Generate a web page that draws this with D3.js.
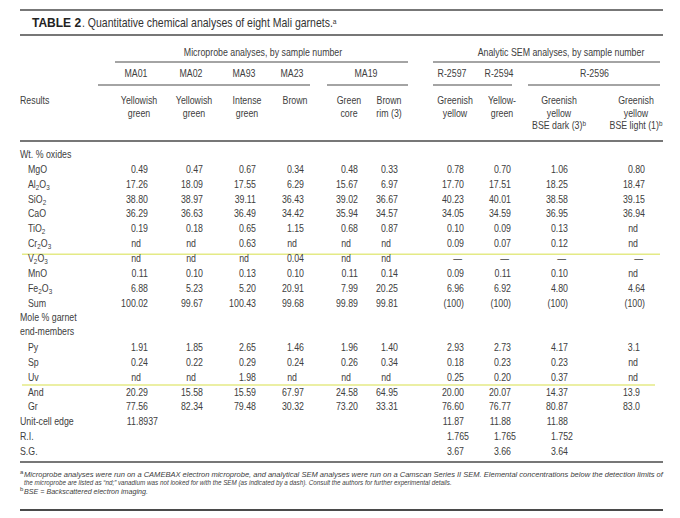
<!DOCTYPE html>
<html>
<head>
<meta charset="utf-8">
<script src="https://cdn.jsdelivr.net/npm/d3@7"></script>
<style>
  body { margin: 0; background: #fff; }
  svg { display: block; }
  text { font-family: 'Liberation Sans', Arial, sans-serif; fill: #404040; }
</style>
</head>
<body>
<div id="chart"></div>
<script>
// Table content
const columns = ["MA01", "MA02", "MA93", "MA23", "MA19 core", "MA19 rim", "R-2597", "R-2594", "R-2596 dark", "R-2596 light"];
const samples = ["MA01", "MA02", "MA93", "MA23", "MA19", "R-2597", "R-2594", "R-2596"];
const sampleColumns = [[0], [1], [2], [3], [4, 5], [6], [7], [8, 9]];
const descriptions = [
  ["Yellowish", "green"], ["Yellowish", "green"], ["Intense", "green"], ["Brown"],
  ["Green", "core"], ["Brown", "rim (3)"], ["Greenish", "yellow"], ["Yellow-", "green"],
  ["Greenish", "yellow", "BSE dark (3)^b"], ["Greenish", "yellow", "BSE light (1)^b"]
];
const groups = ["Microprobe analyses, by sample number", "Analytic SEM analyses, by sample number"];

const oxideLabels = ["MgO", "Al_2O_3", "SiO_2", "CaO", "TiO_2", "Cr_2O_3", "V_2O_3", "MnO", "Fe_2O_3", "Sum"];
const oxideValues = [
  ["0.49", "0.47", "0.67", "0.34", "0.48", "0.33", "0.78", "0.70", "1.06", "0.80"],
  ["17.26", "18.09", "17.55", "6.29", "15.67", "6.97", "17.70", "17.51", "18.25", "18.47"],
  ["38.80", "38.97", "39.11", "36.43", "39.02", "36.67", "40.23", "40.01", "38.58", "39.15"],
  ["36.29", "36.63", "36.49", "34.42", "35.94", "34.57", "34.05", "34.59", "36.95", "36.94"],
  ["0.19", "0.18", "0.65", "1.15", "0.68", "0.87", "0.10", "0.09", "0.13", "nd"],
  ["nd", "nd", "0.63", "nd", "nd", "nd", "0.09", "0.07", "0.12", "nd"],
  ["nd", "nd", "nd", "0.04", "nd", "nd", "—", "—", "—", "—"],
  ["0.11", "0.10", "0.13", "0.10", "0.11", "0.14", "0.09", "0.11", "0.10", "nd"],
  ["6.88", "5.23", "5.20", "20.91", "7.99", "20.25", "6.96", "6.92", "4.80", "4.64"],
  ["100.02", "99.67", "100.43", "99.68", "99.89", "99.81", "(100)", "(100)", "(100)", "(100)"]
];
const memberLabels = ["Py", "Sp", "Uv", "And", "Gr"];
const memberValues = [
  ["1.91", "1.85", "2.65", "1.46", "1.96", "1.40", "2.93", "2.73", "4.17", "3.1"],
  ["0.24", "0.22", "0.29", "0.24", "0.26", "0.34", "0.18", "0.23", "0.23", "nd"],
  ["nd", "nd", "1.98", "nd", "nd", "nd", "0.25", "0.20", "0.37", "nd"],
  ["20.29", "15.58", "15.59", "67.97", "24.58", "64.95", "20.00", "20.07", "14.37", "13.9"],
  ["77.56", "82.34", "79.48", "30.32", "73.20", "33.31", "76.60", "76.77", "80.87", "83.0"]
];
const physLabels = ["Unit-cell edge", "R.I.", "S.G."];
const physValues = [
  ["11.8937", "", "", "", "", "", "11.87", "11.88", "11.88", ""],
  ["", "", "", "", "", "", "1.765", "1.765", "1.752", ""],
  ["", "", "", "", "", "", "3.67", "3.66", "3.64", ""]
];
const footnotes = [
  ["a", "Microprobe analyses were run on a CAMEBAX electron microprobe, and analytical SEM analyses were run on a Camscan Series II SEM.  Elemental concentrations below the detection limits of"],
  ["", "the microprobe are listed as \u201cnd;\u201d vanadium was not looked for with the SEM (as indicated by a dash).  Consult the authors for further experimental details."],
  ["b", "BSE = Backscattered electron imaging."]
];

// Layout
const width = 680, height = 518;
const left = 20, right = 663;
const colRight = [148, 203, 256, 304, 358, 398, 464, 511, 568, 645];
const footWidths = [640, 428, 124];
const digitW = 5;
const squeeze = 0.8;   // emulate the condensed face of the print
const ink = "#4a4a4a";
const yellow = "#e4ea86";

const x = d3.scaleOrdinal().domain(columns).range(colRight);
const rowY = d3.scaleLinear().domain([0, 20]).range([154, 451]);

const svg = d3.select("#chart").append("svg")
  .attr("width", width)
  .attr("height", height);

// condensed text placed at (px, py)
function ctext(px, py, size, anchor) {
  return svg.append("text")
    .attr("transform", `translate(${px},${py}) scale(${squeeze},1)`)
    .attr("font-size", size)
    .attr("text-anchor", anchor || "start");
}

// squeeze a text horizontally so it spans a given width
function fitWidth(sel, px, py, w) {
  const natural = sel.node().getComputedTextLength();
  sel.attr("transform", `translate(${px},${py}) scale(${w / natural},1)`);
}

// write "Al_2O_3" style labels with subscripts, "x^b" with superscripts
function richText(sel, str, size) {
  const parts = str.split(/([_^]\w)/).filter(s => s.length);
  parts.forEach(p => {
    if (p[0] === "_") {
      sel.append("tspan").attr("font-size", size * 0.72).attr("baseline-shift", "-22%").text(p[1]);
    } else if (p[0] === "^") {
      sel.append("tspan").attr("font-size", size * 0.72).attr("baseline-shift", "40%").text(p[1]);
    } else {
      sel.append("tspan").text(p);
    }
  });
}

function rule(y, x1, x2, w, col) {
  svg.append("line")
    .attr("x1", x1).attr("x2", x2).attr("y1", y).attr("y2", y)
    .attr("stroke", col || ink).attr("stroke-width", w || 1.3);
}

// Title
rule(10, left, right, 1.6);
svg.append("text")
  .attr("x", 32).attr("y", 27)
  .attr("font-size", 12).attr("font-weight", "bold").style("fill", "#222")
  .text("TABLE 2");
const title = svg.append("text")
  .attr("font-size", 12.5).style("fill", "#333");
title.append("tspan").text(". Quantitative chemical analyses of eight Mali garnets.");
title.append("tspan").attr("font-size", 8).attr("baseline-shift", "45%").text("a");
fitWidth(title, 82, 27, 255);
rule(35, left, right, 1.3);

// Group headers
const groupSpans = [[115, 408], [433, 660]];
const groupCenters = [263, 561];
groups.forEach((g, i) => {
  ctext(groupCenters[i], 56, 11, "middle").text(g);
  rule(62, groupSpans[i][0], groupSpans[i][1], 1.2);
});

// Sample numbers
samples.forEach((s, i) => {
  const cols = sampleColumns[i].map(c => x(columns[c]));
  ctext(d3.mean(cols) - 12, 77, 11, "middle").text(s);
});
const sampleRules = [[98, 310], [327, 408], [433, 512], [528, 660]];
sampleRules.forEach(r => rule(85, r[0], r[1], 1.2));

// Colour descriptions
ctext(left, 104, 11).text("Results");
descriptions.forEach((lines, i) => {
  lines.forEach((line, j) => {
    const t = ctext(x(columns[i]) - 9, 104 + j * 12.5, 11, "middle");
    richText(t, line, 11);
  });
});
rule(141, left, right, 1.4);

// Body rows
const rows = [];
rows.push({ slot: 0, label: "Wt. % oxides", indent: 0 });
oxideLabels.forEach((l, i) => rows.push({ slot: 1 + i, label: l, indent: 1, values: oxideValues[i] }));
rows.push({ slot: 11, label: "Mole % garnet", indent: 0 });
rows.push({ slot: 11.9, label: "end-members", indent: 0 });
memberLabels.forEach((l, i) => rows.push({ slot: 13 + i, label: l, indent: 1, values: memberValues[i] }));
physLabels.forEach((l, i) => rows.push({ slot: 18 + i, label: l, indent: 0, values: physValues[i] }));

// light yellow marker lines in the scan
rule(rowY(6.75), 22, 660, 1.5, yellow);
rule(rowY(15.55), 22, 655, 1.5, yellow);

function valueX(col, v) {
  const r = x(col);
  if (v === "nd") return r - 7;
  if (v === "\u2014") return r - 2;
  const m = v.match(/\.(\d+)/);
  const dec = m ? m[1].length : 2;
  return r + (dec - 2) * digitW;
}

rows.forEach(row => {
  const y = rowY(row.slot) + 4;
  const t = ctext(left + row.indent * 8, y, 11);
  richText(t, row.label, 11);
  if (!row.values) return;
  row.values.forEach((v, i) => {
    if (v === "") return;
    ctext(valueX(columns[i], v), y, 11, "end").text(v);
  });
});

// Footnotes
rule(462, left, right, 1.3);
footnotes.forEach((f, i) => {
  const y = 477 + i * 8.4;
  if (f[0]) {
    svg.append("text").attr("x", left).attr("y", y - 3)
      .attr("font-size", 6).text(f[0]);
  }
  const t = svg.append("text")
    .attr("font-size", 7.8).attr("font-style", "italic")
    .text(f[1]);
  fitWidth(t, left + 4, y, footWidths[i]);
});
rule(510, left, right, 2);
</script>
</body>
</html>
